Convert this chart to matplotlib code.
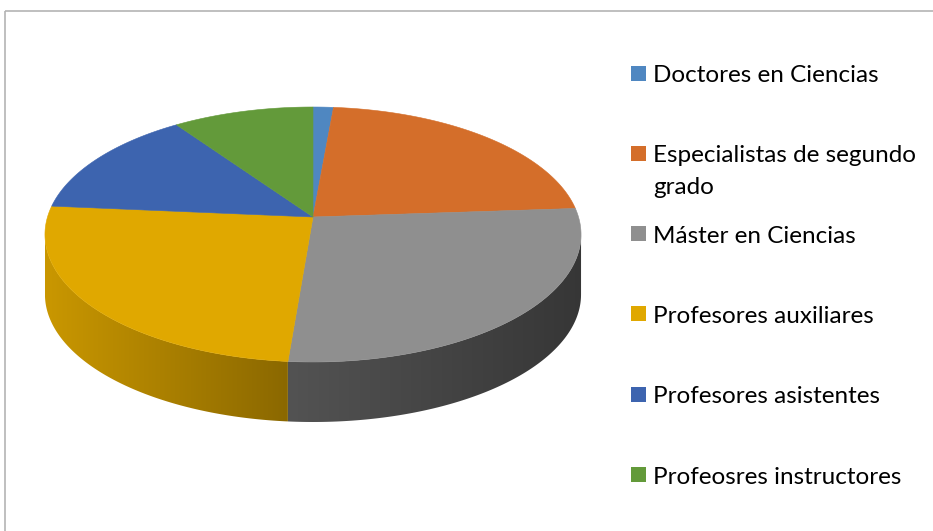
import matplotlib.pyplot as plt
import numpy as np
from matplotlib.colors import to_rgb
from matplotlib.patches import Polygon, Rectangle

plt.rcParams['font.family'] = ['Lato', 'DejaVu Sans']

labels = ['Doctores en Ciencias', 'Especialistas de segundo\ngrado', 'Máster en Ciencias',
          'Profesores auxiliares', 'Profesores asistentes', 'Profeosres instructores']
values = [1.4, 22.5, 27.4, 25.1, 13.9, 9.7]
colors = ['#4F87C1', '#D46E2A', '#8F8F8F', '#E0A800', '#3D64AF', '#639A3A']
# side wall shading (left, right) per slice
wall_shade = [(0.9, 0.6), (0.9, 0.6), (0.58, 0.38), (0.9, 0.62), (0.9, 0.6), (0.9, 0.6)]

W, H = 933, 531
fig = plt.figure(figsize=(W / 100, H / 100), dpi=100)
ax = fig.add_axes([0, 0, 1, 1])

# chart frame
ax.add_patch(Rectangle((4.5, 10.5), W, H, fill=False, edgecolor='#B4B4B4', lw=1.2))

# perspective pie geometry (pixels)
cx, vy, ytop, ybot, k, depth = 313.0, 217.0, 107.0, 362.0, 265.5, 60.0
# 1D projective map along the depth axis: f(-1)=ytop, f(0)=vy, f(1)=ybot
gamma = ((ytop - vy) + (ybot - vy)) / (ytop - ybot)
alpha = (ybot - vy) + ybot * gamma


def proj(phi):
    u = np.sin(phi)
    t = -np.cos(phi)
    w = 1 + gamma * t
    return cx + k * u / w, (alpha * t + vy) / w


frac = np.array(values) / sum(values)
edges = np.concatenate([[0], np.cumsum(frac)]) * 2 * np.pi
phi_l = np.arccos(gamma)
phi_r = 2 * np.pi - phi_l

# side walls, horizontal gradient clipped to each wall
for i in range(len(values)):
    a, b = max(edges[i], phi_l), min(edges[i + 1], phi_r)
    if b <= a:
        continue
    xs, ys = proj(np.linspace(a, b, 200))
    pts = list(zip(xs, ys)) + list(zip(xs[::-1], ys[::-1] + depth))
    poly = Polygon(pts, closed=True, facecolor='none', edgecolor='none')
    ax.add_patch(poly)
    base = np.array(to_rgb(colors[i]))
    f = np.linspace(wall_shade[i][0], wall_shade[i][1], 256)
    grad = np.clip(base[None, :] * f[:, None], 0, 1)[None, :, :]
    im = ax.imshow(grad, extent=(xs.min(), xs.max(), ys.max() + depth + 1, ys.min() - 1),
                   aspect='auto', interpolation='bilinear', zorder=1)
    im.set_clip_path(poly)

# top face
for i in range(len(values)):
    n = max(int(np.degrees(edges[i + 1] - edges[i])) * 2, 2) + 1
    xs, ys = proj(np.linspace(edges[i], edges[i + 1], n))
    pts = [(cx, vy)] + list(zip(xs, ys))
    ax.add_patch(Polygon(pts, closed=True, facecolor=colors[i], edgecolor=colors[i],
                         lw=0.4, zorder=2))

# legend
for i, lab in enumerate(labels):
    yc = 73 + 80.3 * i
    ax.add_patch(Rectangle((631, yc - 7.5), 15, 15, facecolor=colors[i], edgecolor='none'))
    for j, line in enumerate(lab.split('\n')):
        ax.text(653, yc + 9 + 31.5 * j, line, fontsize=17.5, color='#000000',
                ha='left', va='baseline')

ax.set_xlim(0, W)
ax.set_ylim(H, 0)
ax.axis('off')
plt.savefig('out.png', dpi=100)
